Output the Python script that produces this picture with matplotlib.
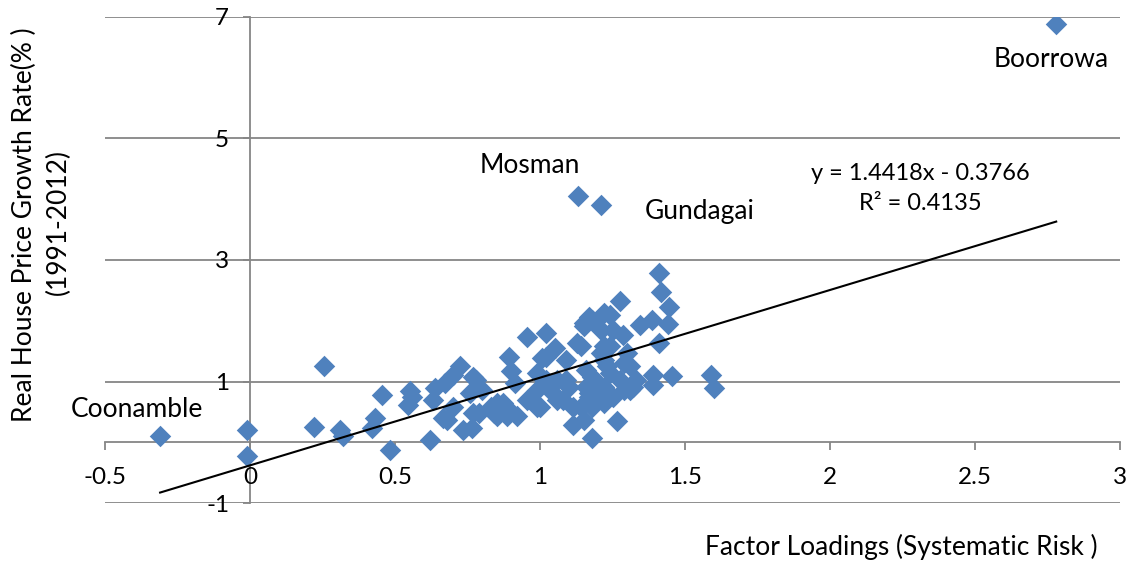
import numpy as np
import matplotlib
matplotlib.use('Agg')
import matplotlib.pyplot as plt

plt.rcParams['font.family'] = ['Lato', 'DejaVu Sans']
plt.rcParams['axes.unicode_minus'] = False

# factor loadings (x) and real house price growth (y)
loadings = [
    -0.31, -0.01, -0.01, 0.22, 0.256, 0.31, 0.32, 0.42, 0.43, 0.454,
    0.483, 0.55, 0.557, 0.546, 0.62, 0.638, 0.63, 0.667, 0.672, 0.70,
    0.724, 0.736, 0.70, 0.68, 0.77, 0.76, 0.77, 0.765, 0.78, 0.80,
    0.79, 0.83, 0.84, 0.85, 0.874, 0.885, 0.85, 0.885, 0.92, 0.894,
    0.90, 0.914, 0.954, 0.954, 0.99, 0.99, 0.99, 1.0, 1.006, 1.02,
    1.02, 1.02, 1.046, 1.05, 1.06, 1.06, 1.08, 1.09, 1.09, 1.10,
    1.115, 1.115, 1.127, 1.13, 1.14, 1.14, 1.15, 1.15, 1.15, 1.16,
    1.16, 1.17, 1.17, 1.17, 1.18, 1.18, 1.18, 1.18, 1.195, 1.195,
    1.21, 1.21, 1.21, 1.22, 1.22, 1.22, 1.22, 1.22, 1.22, 1.23,
    1.23, 1.24, 1.24, 1.24, 1.25, 1.25, 1.265, 1.276, 1.276, 1.287,
    1.29, 1.29, 1.30, 1.31, 1.31, 1.32, 1.33, 1.345, 1.385, 1.39,
    1.39, 1.41, 1.41, 1.416, 1.44, 1.445, 1.454, 1.59, 1.60, 2.78,
]
growth = [
    0.11, 0.20, -0.22, 0.26, 1.26, 0.20, 0.10, 0.24, 0.41, 0.78,
    -0.12, 0.84, 0.75, 0.62, 0.04, 0.89, 0.70, 0.40, 0.97, 1.11,
    1.25, 0.21, 0.59, 0.37, 1.08, 0.81, 0.48, 0.24, 1.03, 0.87,
    0.48, 0.59, 0.48, 0.65, 0.65, 0.56, 0.43, 0.43, 0.43, 1.40,
    1.17, 0.97, 1.74, 0.70, 0.86, 0.59, 1.14, 0.59, 1.39, 1.80,
    1.41, 1.03, 0.81, 1.55, 0.70, 1.03, 0.70, 1.36, 1.03, 0.92,
    0.59, 0.29, 1.63, 4.06, 0.59, 1.58, 1.96, 1.91, 0.37, 1.19,
    0.92, 2.07, 0.81, 0.75, 0.07, 1.08, 2.02, 0.59, 0.97, 0.86,
    1.47, 3.91, 1.85, 0.65, 0.92, 2.13, 1.58, 1.36, 0.75, 1.25,
    0.81, 2.10, 1.14, 1.58, 1.85, 0.75, 0.36, 2.33, 1.03, 1.77,
    1.30, 0.86, 1.47, 1.25, 0.86, 0.92, 1.03, 1.93, 2.02, 1.11,
    0.95, 2.78, 1.63, 2.47, 1.95, 2.22, 1.10, 1.11, 0.89, 6.88,
]

# linear trendline as reported on the chart
slope = 1.4418
intercept = -0.3766
r_squared = 0.4135

x_ticks = [-0.5, 0, 0.5, 1, 1.5, 2, 2.5, 3]
y_ticks = [-1, 1, 3, 5, 7]

grid_col = '#868686'

fig = plt.figure(figsize=(11.29, 5.69), dpi=100)
ax = fig.add_axes([105 / 1129, 1 - 503.3 / 569, 1015 / 1129, 486.6 / 569])

ax.set_xlim(-0.5, 3)
ax.set_ylim(-1, 7)

for yv in y_ticks:
    ax.axhline(yv, color=grid_col, lw=1.3, zorder=1)

ax.scatter(loadings, growth, marker='D', s=120, color='#4F81BD',
           linewidths=0, zorder=3)

xs = np.array([min(loadings), max(loadings)])
ax.plot(xs, slope * xs + intercept, color='black', lw=1.5, zorder=4)

# axes cross at the origin
for side in ['top', 'right']:
    ax.spines[side].set_visible(False)
ax.spines['left'].set_position(('data', 0))
ax.spines['bottom'].set_position(('data', 0))
for side in ['left', 'bottom']:
    ax.spines[side].set_color(grid_col)
    ax.spines[side].set_linewidth(1.3)
    ax.spines[side].set_zorder(1)

ax.set_xticks(x_ticks)
ax.set_xticklabels([f'{t:g}' for t in x_ticks])
ax.set_yticks(y_ticks)
ax.set_yticklabels([f'{t:g}' for t in y_ticks])
ax.tick_params(axis='x', direction='out', length=6, width=1.3, color=grid_col,
               labelsize=17.5, pad=12)
ax.tick_params(axis='y', direction='out', length=5, width=1.3, color=grid_col,
               labelsize=17.5, pad=10)

ax.text(2.762, 6.29, 'Boorrowa', fontsize=19, ha='center', va='center')
ax.text(0.966, 4.55, 'Mosman', fontsize=19, ha='center', va='center')
ax.text(1.552, 3.79, 'Gundagai', fontsize=19, ha='center', va='center')
ax.text(-0.39, 0.55, 'Coonamble', fontsize=19, ha='center', va='center')
ax.text(2.31, 4.42, f'y = {slope}x - {abs(intercept)}', fontsize=17,
        ha='center', va='center')
ax.text(2.31, 3.93, f'R² = {r_squared}', fontsize=17, ha='center', va='center')

fig.text(24 / 1129, 1 - 225 / 569, 'Real House Price Growth Rate(% )',
         rotation=90, fontsize=19, ha='center', va='center')
fig.text(58 / 1129, 1 - 222 / 569, '(1991-2012)',
         rotation=90, fontsize=19, ha='center', va='center')
fig.text(1098 / 1129, 1 - 547 / 569, 'Factor Loadings (Systematic Risk )',
         fontsize=19, ha='right', va='center')

fig.savefig('out.png', dpi=100)
